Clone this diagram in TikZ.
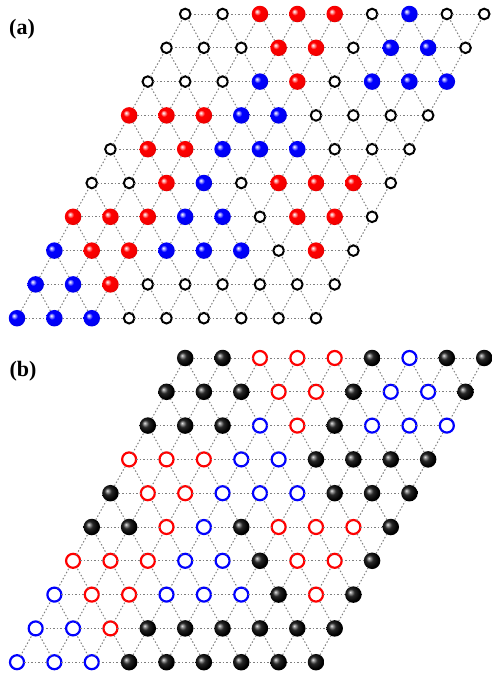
\documentclass[tikz,border=0pt]{standalone}
\usepackage{fontspec}
\setmainfont{Liberation Serif}
\pgfdeclareradialshading{redball}{\pgfpoint{-10bp}{8bp}}{color(0bp)=(white); color(4bp)=(red!35!white); color(10bp)=(red); color(24bp)=(red!95!black); color(36bp)=(red!75!black); color(50bp)=(red!75!black)}
\pgfdeclareradialshading{blueball}{\pgfpoint{-10bp}{8bp}}{color(0bp)=(white); color(4bp)=(blue!35!white); color(10bp)=(blue); color(24bp)=(blue!95!black); color(36bp)=(blue!75!black); color(50bp)=(blue!75!black)}
\pgfdeclareradialshading{blackball}{\pgfpoint{-10bp}{8bp}}{color(0bp)=(white!90!black); color(4bp)=(white!60!black); color(11bp)=(black!85); color(24bp)=(black); color(50bp)=(black)}
\begin{document}
\begin{tikzpicture}[x=1pt,y=-1pt,
  site/.style={circle,inner sep=0pt,outer sep=0pt},
  ball/.style={site,minimum size=16.5pt},
  nO/.style={site,draw=black,line width=2pt,fill=white,minimum size=10.6pt},
  nR/.style={ball,shading=redball},
  nB/.style={ball,shading=blueball},
  nK/.style={ball,shading=blackball},
  oR/.style={site,draw=red,line width=2.2pt,fill=white,minimum size=14pt},
  oB/.style={site,draw=blue,line width=2.2pt,fill=white,minimum size=14pt},
  bond/.style={draw=black!50,line width=1pt,dash pattern=on 1.5pt off 2pt},
  lbl/.style={font=\bfseries\fontsize{22}{22}\selectfont,inner sep=0pt}]
\useasboundingbox (0,0) rectangle (491,675);
% panel (a)
\foreach \r/\row in {
  0/{nO,nO,nR,nR,nR,nO,nB,nO,nO},
  1/{nO,nO,nO,nR,nR,nO,nB,nB,nO},
  2/{nO,nO,nO,nB,nR,nO,nB,nB,nB},
  3/{nR,nR,nR,nB,nB,nO,nO,nO,nO},
  4/{nO,nR,nR,nB,nB,nB,nO,nO,nO},
  5/{nO,nO,nR,nB,nO,nR,nR,nR,nO},
  6/{nR,nR,nR,nB,nB,nO,nR,nR,nO},
  7/{nB,nR,nR,nB,nB,nB,nO,nR,nO},
  8/{nB,nB,nR,nO,nO,nO,nO,nO,nO},
  9/{nB,nB,nB,nO,nO,nO,nO,nO,nO}} {
  \foreach \s [count=\i from 0] in \row {
    \node[\s] (a-\i-\r) at ({17+\i*37.375+(9-\r)*18.69},{14+\r*33.8}) {};
  }
}
% panel (b)
\foreach \r/\row in {
  0/{nK,nK,oR,oR,oR,nK,oB,nK,nK},
  1/{nK,nK,nK,oR,oR,nK,oB,oB,nK},
  2/{nK,nK,nK,oB,oR,nK,oB,oB,oB},
  3/{oR,oR,oR,oB,oB,nK,nK,nK,nK},
  4/{nK,oR,oR,oB,oB,oB,nK,nK,nK},
  5/{nK,nK,oR,oB,nK,oR,oR,oR,nK},
  6/{oR,oR,oR,oB,oB,nK,oR,oR,nK},
  7/{oB,oR,oR,oB,oB,oB,nK,oR,nK},
  8/{oB,oB,oR,nK,nK,nK,nK,nK,nK},
  9/{oB,oB,oB,nK,nK,nK,nK,nK,nK}} {
  \foreach \s [count=\i from 0] in \row {
    \node[\s] (b-\i-\r) at ({17+\i*37.375+(9-\r)*18.69},{358+\r*33.8}) {};
  }
}
% bonds
\foreach \p in {a,b} {
  \foreach \r in {0,...,9} {
    \foreach \i in {0,...,7} {
      \pgfmathtruncatemacro\j{\i+1}
      \draw[bond] (\p-\i-\r) -- (\p-\j-\r);
    }
  }
  \foreach \r in {1,...,9} {
    \pgfmathtruncatemacro\q{\r-1}
    \foreach \i in {0,...,8} {
      \draw[bond] (\p-\i-\r) -- (\p-\i-\q);
    }
    \foreach \i in {1,...,8} {
      \pgfmathtruncatemacro\k{\i-1}
      \draw[bond] (\p-\i-\r) -- (\p-\k-\q);
    }
  }
}
\node[lbl] (la) at (22,29) {(a)};
\node[lbl] (lb) at (23,371) {(b)};
\end{tikzpicture}
\end{document}
